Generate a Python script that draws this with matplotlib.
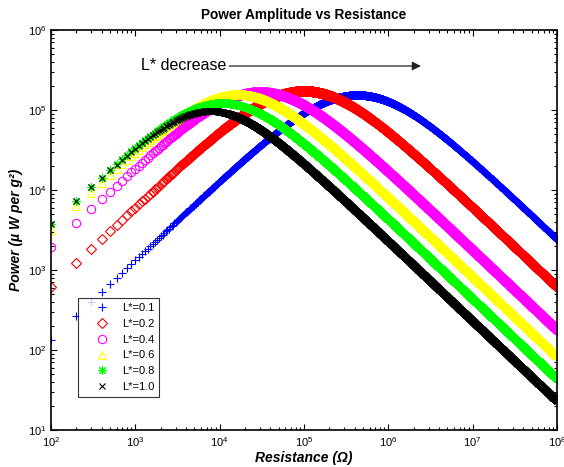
import numpy as np
import matplotlib
matplotlib.use("Agg")
import matplotlib.pyplot as plt
from matplotlib.ticker import LogLocator, NullFormatter

plt.rcParams['font.family'] = ['Liberation Sans', 'DejaVu Sans']
plt.rcParams['mathtext.fontset'] = 'custom'
plt.rcParams['mathtext.rm'] = 'Liberation Sans'

# ---- data ----
labels = ['L*=0.1', 'L*=0.2', 'L*=0.4', 'L*=0.6', 'L*=0.8', 'L*=1.0']
p_first = [133, 613, 1940, 3160, 3760, 3760]        # power at R = 100 ohm
p_last = [2440, 613, 178, 86, 43.6, 23]             # power at R = 1e8 ohm
p_peak = [1.54e5, 1.73e5, 1.68e5, 1.58e5, 1.22e5, 9.7e4]  # peak power
r_first = 100.0
r_last = 1e8

colors = ['#0000ff', '#ff0000', '#ff00ff', '#ffff00', '#00ff00', '#000000']
markers = ['+', 'D', 'o', '^', (8, 2, 0), 'x']
msizes = [6, 5.5, 6, 6, 6, 5]

# resistance samples: 100-ohm steps, then dense where markers merge
R = np.concatenate([np.arange(100, 20001, 100), np.geomspace(2.01e4, 1e8, 1500)])

fig = plt.figure(figsize=(5.64, 4.67), dpi=100)
ax = fig.add_axes([51/564, 1-430/467, 506/564, 400/467])

for pf, pl, pp, c, m, ms, lab in zip(p_first, p_last, p_peak, colors, markers, msizes, labels):
    a = pf / r_first           # low-R slope
    b = pl * r_last            # high-R coefficient (V^2)
    ropt = np.sqrt(b / a)
    rs = b / (2 * pp) - ropt
    x2 = max(ropt**2 - rs**2, 0.0)
    P = b * R / ((R + rs)**2 + x2)
    ax.plot(R, P, linestyle='none', marker=m, color=c, mfc='none', ms=ms,
            mew=0.8, label=lab)

ax.set_xscale('log')
ax.set_yscale('log')
ax.set_xlim(1e2, 1e8)
ax.set_ylim(1e1, 1e6)
ax.xaxis.set_major_locator(LogLocator(base=10, numticks=20))
ax.yaxis.set_major_locator(LogLocator(base=10, numticks=20))
ax.xaxis.set_minor_locator(LogLocator(base=10, subs=np.arange(2, 10), numticks=20))
ax.yaxis.set_minor_locator(LogLocator(base=10, subs=np.arange(2, 10), numticks=20))
ax.xaxis.set_minor_formatter(NullFormatter())
ax.yaxis.set_minor_formatter(NullFormatter())
ax.tick_params(which='both', direction='in', top=True, right=True, labelsize=8, width=0.8)
ax.tick_params(which='major', length=4)
ax.tick_params(which='minor', length=2)
for s in ax.spines.values():
    s.set_linewidth(1.2)

ax.set_title('Power Amplitude vs Resistance', fontsize=9.8, fontweight='bold', pad=8)
ax.set_xlabel('Resistance (Ω)', fontsize=10, fontweight='bold', fontstyle='italic', labelpad=2)
ax.set_ylabel('Power (µ W per g²)', fontsize=10, fontweight='bold', fontstyle='italic', labelpad=3)

ax.annotate('', xy=(10**6.42, 10**5.55), xytext=(10**4.08, 10**5.55),
            arrowprops=dict(arrowstyle='-|>', color='#222222', lw=0.9, mutation_scale=13))
ax.text(10**3.07, 10**5.55, 'L* decrease', fontsize=11.5, va='center', ha='left')

leg = ax.legend(loc='lower left', bbox_to_anchor=(0.053, 0.0825), borderaxespad=0,
                fontsize=8, frameon=True, fancybox=False, edgecolor='black',
                handlelength=3.4, handletextpad=0.1, borderpad=0.45, labelspacing=0.52,
                markerscale=1.0)
leg.get_frame().set_linewidth(0.8)

fig.savefig('out.png', dpi=100)
